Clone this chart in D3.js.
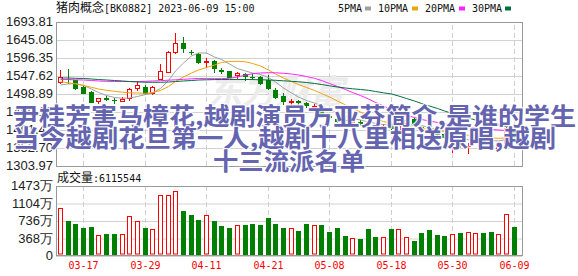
<!DOCTYPE html>
<html><head><meta charset="utf-8">
<script src="https://cdn.jsdelivr.net/npm/d3@7"></script>
<style>html,body{margin:0;padding:0;background:#fff;}svg{display:block}</style>
</head><body><svg id="c" width="578" height="276"></svg>
<script>
const dates = ["2023-03-14","2023-03-15","2023-03-16","2023-03-17","2023-03-20","2023-03-21","2023-03-22","2023-03-23","2023-03-24","2023-03-27","2023-03-28","2023-03-29","2023-03-30","2023-03-31","2023-04-03","2023-04-04","2023-04-06","2023-04-07","2023-04-10","2023-04-11","2023-04-12","2023-04-13","2023-04-14","2023-04-17","2023-04-18","2023-04-19","2023-04-20","2023-04-21","2023-04-24","2023-04-25","2023-04-26","2023-04-27","2023-04-28","2023-05-04","2023-05-05","2023-05-08","2023-05-09","2023-05-10","2023-05-11","2023-05-12","2023-05-15","2023-05-16","2023-05-17","2023-05-18","2023-05-19","2023-05-22","2023-05-23","2023-05-24","2023-05-25","2023-05-26","2023-05-29","2023-05-30","2023-05-31","2023-06-01","2023-06-02","2023-06-05","2023-06-06","2023-06-07","2023-06-08","2023-06-09"];
const opens = [1531.4,1540.3,1536.0,1517.8,1504.3,1479.9,1487.5,1483.2,1479.9,1488.1,1515.9,1518.7,1501.6,1540.3,1557.6,1612.6,1636.1,1613.1,1606.4,1585.8,1589.0,1563.6,1562.0,1549.5,1553.0,1544.6,1544.1,1536.8,1509.7,1493.5,1477.2,1478.6,1474.5,1463.7,1457.5,1438.0,1431.2,1429.0,1423.1,1424.4,1410.9,1412.3,1408.2,1417.7,1401.4,1419.6,1431.2,1410.4,1400.1,1397.4,1390.6,1362.2,1364.9,1356.8,1368.9,1377.1,1360.8,1351.3,1366.2,1398.7];
const highs = [1563.9,1566.6,1538.1,1520.6,1505.7,1488.1,1492.7,1488.1,1490.8,1515.1,1534.1,1523.3,1520.6,1580.9,1614.5,1664.8,1654.0,1618.0,1609.9,1595.5,1589.6,1570.1,1562.5,1557.1,1556.6,1554.9,1547.6,1549.5,1513.8,1502.4,1485.4,1482.7,1477.2,1470.5,1459.6,1444.7,1436.6,1433.9,1432.6,1428.5,1417.7,1415.0,1419.0,1423.1,1425.8,1433.9,1433.9,1413.6,1404.1,1401.4,1393.3,1374.4,1368.9,1366.2,1381.1,1379.8,1363.5,1367.6,1409.6,1401.4];
const lows = [1527.9,1530.0,1511.6,1501.6,1477.2,1475.3,1482.7,1475.3,1479.1,1481.8,1508.9,1498.9,1498.9,1538.7,1557.1,1610.7,1613.4,1607.2,1582.0,1572.8,1558.4,1554.9,1543.6,1541.4,1536.0,1538.7,1526.0,1512.4,1489.4,1471.0,1472.6,1471.8,1463.7,1458.3,1435.3,1428.5,1423.1,1421.7,1420.4,1415.0,1404.1,1404.1,1397.4,1404.1,1398.7,1417.7,1412.3,1398.7,1393.3,1387.9,1379.8,1341.9,1355.4,1340.5,1366.2,1366.2,1352.7,1350.0,1364.9,1382.5];
const closes = [1544.1,1539.2,1514.3,1502.4,1478.0,1487.3,1486.4,1481.8,1486.2,1511.6,1522.4,1500.8,1517.0,1560.3,1611.8,1636.1,1624.2,1612.1,1586.3,1587.4,1569.3,1562.2,1545.7,1556.6,1547.6,1543.6,1527.9,1514.3,1491.6,1480.8,1478.9,1477.2,1469.1,1465.1,1437.4,1436.6,1427.0,1427.7,1427.2,1420.4,1409.6,1406.8,1413.6,1406.8,1419.6,1428.5,1415.0,1401.4,1396.0,1390.6,1382.5,1363.5,1359.5,1358.1,1378.4,1368.9,1354.1,1366.2,1405.5,1387.9];
const volumes = [10180000,7260000,6830000,5980000,6190000,4480000,4550000,4550000,4700000,8330000,7400000,5980000,5690000,12810000,12810000,13600000,9390000,8610000,7680000,8680000,7470000,6400000,5980000,6550000,6620000,6830000,6620000,7900000,6830000,5980000,5910000,5340000,6830000,6620000,6620000,5120000,5980000,4270000,3770000,3630000,5760000,4050000,4050000,5760000,5760000,4050000,3200000,4910000,5550000,4480000,4270000,4700000,4910000,5120000,4910000,4910000,5120000,4700000,8750000,6115544];
const ma5 = [1523.3,1526.0,1527.3,1521.9,1512.4,1503.0,1494.8,1489.4,1487.3,1488.1,1492.1,1497.5,1501.6,1513.8,1535.4,1561.2,1582.8,1601.8,1609.9,1609.9,1599.1,1592.3,1580.1,1567.9,1561.2,1555.7,1551.7,1543.6,1531.4,1515.1,1501.6,1490.8,1481.3,1474.5,1466.4,1456.9,1447.5,1438.0,1432.6,1428.5,1423.1,1419.0,1416.3,1413.6,1412.8,1415.0,1416.3,1413.6,1408.2,1402.8,1397.4,1389.3,1382.5,1374.4,1373.0,1374.4,1373.0,1371.7,1376.0,1381.0];
const ma10 = [1532.2,1529.2,1526.5,1521.9,1517.0,1512.4,1508.9,1506.2,1503.8,1502.1,1501.6,1500.8,1503.0,1508.4,1519.2,1532.7,1544.9,1555.7,1563.9,1570.6,1577.4,1584.2,1586.9,1587.4,1586.1,1581.5,1574.7,1563.9,1553.0,1542.2,1532.7,1524.6,1516.5,1508.4,1500.2,1490.8,1479.9,1469.1,1459.6,1450.2,1440.7,1431.2,1424.4,1419.0,1415.0,1410.9,1408.2,1405.5,1402.8,1400.1,1397.4,1393.3,1389.8,1387.1,1384.7,1382.5,1379.8,1379.0,1380.3,1383.3];
const ma20 = [1538.1,1537.9,1537.3,1536.8,1535.4,1534.1,1533.3,1532.7,1532.7,1532.7,1532.7,1533.3,1534.1,1534.9,1536.3,1537.3,1538.7,1540.0,1540.9,1540.5,1540.5,1540.5,1541.4,1544.9,1550.3,1553.6,1555.7,1556.6,1556.3,1554.9,1553.0,1550.3,1546.3,1541.4,1535.4,1527.3,1519.2,1511.1,1503.0,1494.8,1485.4,1475.9,1466.4,1456.9,1448.8,1440.7,1435.3,1429.9,1425.8,1421.7,1417.7,1415.0,1412.3,1409.6,1406.9,1404.7,1402.8,1401.4,1400.1,1399.3];
const ma30 = [1542.2,1542.2,1541.4,1540.9,1539.5,1538.1,1536.8,1535.4,1534.1,1532.7,1531.4,1530.8,1530.6,1530.6,1531.4,1532.7,1534.1,1535.4,1536.8,1537.3,1537.9,1538.1,1538.1,1538.1,1538.1,1537.9,1537.3,1536.8,1536.0,1534.6,1533.3,1531.9,1530.0,1527.3,1524.6,1521.1,1517.8,1515.1,1513.0,1511.1,1508.9,1505.7,1502.1,1498.9,1493.5,1486.7,1479.9,1473.2,1466.4,1459.6,1452.9,1446.1,1439.3,1433.9,1428.5,1423.6,1419.0,1415.0,1410.9,1406.9];
const priceTicks = [1693.81,1645.08,1596.35,1547.62,1498.89,1450.16,1401.43,1352.70,1303.97];
const volTicks = [0,3682500,7365000,11047500,14730000];
const volTickLabels = ["0","368万","736万","1104万","1473万"];
const maNames = ["5PMA","10PMA","20PMA","30PMA"];
const maColors = ["#a0a0a0","#f0a30a","#ff22ff","#00703c"];
const overlayLines = ["尹桂芳害马樟花,越剧演员方亚芬简介,是谁的学生","当今越剧花旦第一人,越剧十八里相送原唱,越剧","十三流派名单"];

const svg = d3.select("#c");
const L=56, R=522, PT=22, PB=166, VT=186, VB=256;
const RED="#ff0000", GREEN="#008000";
const MONO="'DejaVu Sans Mono','Liberation Mono',monospace";
const CJK="'Noto Sans CJK SC','Noto Sans',sans-serif";
const SANS="'Liberation Sans',Arial,sans-serif";

const x = d3.scaleBand().domain(dates).range([56.15,517.55]);
const bw = x.bandwidth();
const cx = d => Math.round(x(d)+bw/2);
const yP = d3.scaleLinear().domain([1303.97,1693.81]).range([PB,PT]);
const yV = d3.scaleLinear().domain([0,14730000]).range([VB,VT]);
const tickDates = dates.filter((d,i)=> i%8===3);

// price axis + grid
const gpa = svg.append("g").attr("transform",`translate(${L},0)`)
  .call(d3.axisLeft(yP).tickValues(priceTicks).tickFormat(d3.format(".2f")).tickSize(-(R-L)).tickPadding(3));
gpa.select(".domain").remove();
gpa.selectAll("line").attr("stroke","#d2d2d2");
gpa.selectAll("text").attr("fill","#222").attr("dy","0.27em").style("font",`13px ${SANS}`);

// volume axis + grid
const gva = svg.append("g").attr("transform",`translate(${L},0)`)
  .call(d3.axisLeft(yV).tickValues(volTicks).tickFormat((d,i)=>volTickLabels[i]).tickSize(-(R-L)).tickPadding(3));
gva.select(".domain").remove();
gva.selectAll("line").attr("stroke","#d2d2d2");
gva.selectAll("text").attr("fill","#222").attr("dy","0.3em").style("font",`13px ${SANS}`);

// vertical dashed grids
function vgrid(y0,h){
  const g = svg.append("g").attr("transform",`translate(0,${y0})`)
    .call(d3.axisBottom(x).tickValues(tickDates).tickSize(-h).tickFormat(""));
  g.select(".domain").remove();
  g.selectAll(".tick").attr("transform",d=>`translate(${cx(d)+0.5},0)`);
  g.selectAll("line").attr("stroke","#cfcfcf").attr("stroke-dasharray","5,3");
}
vgrid(PB,PB-PT);
vgrid(VB-1,VB-1-VT);

// date labels
const gx = svg.append("g").attr("transform",`translate(0,255)`)
  .call(d3.axisBottom(x).tickValues(tickDates).tickFormat(d=>d.slice(5)).tickSize(0).tickPadding(7));
gx.select(".domain").remove();
gx.selectAll(".tick").attr("transform",d=>`translate(${cx(d)+0.5},0)`);
gx.selectAll("text").attr("fill",RED).style("font",`10px ${MONO}`);

// faint logo watermark
svg.append("text").attr("x",208).attr("y",104).text("东方财富")
  .attr("fill","#ececec").style("font",`italic 700 34px ${CJK}`);

// candles
const cdata = dates.map((d,i)=>({d,o:opens[i],h:highs[i],l:lows[i],c:closes[i],v:volumes[i],up:closes[i]>=opens[i]}));
const gc = svg.append("g");
cdata.forEach(k=>{
  const X = cx(k.d), col = k.up?RED:GREEN;
  const top = Math.round(yP(Math.max(k.o,k.c))), bot = Math.round(yP(Math.min(k.o,k.c)));
  const hy = Math.round(yP(k.h)), ly = Math.round(yP(k.l));
  gc.append("line").attr("x1",X+0.5).attr("x2",X+0.5).attr("y1",hy).attr("y2",ly+1).attr("stroke",col);
  if (bot-top < 1) {
    gc.append("line").attr("x1",X-2).attr("x2",X+3).attr("y1",top+0.5).attr("y2",top+0.5).attr("stroke",col);
  } else if (k.up) {
    gc.append("rect").attr("x",X-1.5).attr("y",top+0.5).attr("width",4).attr("height",bot-top)
      .attr("fill","#fff").attr("stroke",col);
  } else {
    gc.append("rect").attr("x",X-2).attr("y",top).attr("width",5).attr("height",bot-top+1).attr("fill",col);
  }
});

// MA lines
[ma5,ma10,ma20,ma30].forEach((arr,j)=>{
  svg.append("path").datum(arr)
    .attr("d",d3.line().x((v,i)=>cx(dates[i])+0.5).y(v=>yP(v)))
    .attr("fill","none").attr("stroke",maColors[j]).attr("stroke-width",1);
});

// volume bars
const gvb = svg.append("g");
cdata.forEach(k=>{
  const X = cx(k.d), top = Math.round(yV(k.v));
  if (k.up) gvb.append("rect").attr("x",X-1.5).attr("y",top+0.5).attr("width",4).attr("height",254.5-top-0.5-0.5)
      .attr("fill","#fff").attr("stroke",RED);
  else gvb.append("rect").attr("x",X-2).attr("y",top).attr("width",5).attr("height",255-top).attr("fill",GREEN);
});

// panel borders
svg.append("rect").attr("x",L+0.5).attr("y",PT+0.5).attr("width",R-L).attr("height",PB-PT).attr("fill","none").attr("stroke","#999");
svg.append("rect").attr("x",L+0.5).attr("y",VT+0.5).attr("width",R-L).attr("height",255-VT).attr("fill","none").attr("stroke","#999");

// title
const t = svg.append("text").attr("x",56).attr("y",12).attr("fill","#111");
t.append("tspan").text("猪肉概念").style("font",`12px ${CJK}`);
t.append("tspan").text("[BK0882] 2023-06-09 15:00").style("font",`10px ${MONO}`);

// legend
const legX = [338,378,425,472], sqX=[365,412,459,505];
maNames.forEach((n,j)=>{
  svg.append("text").attr("x",legX[j]).attr("y",12).text(n).attr("fill","#111").style("font",`10px ${MONO}`);
  svg.append("rect").attr("x",sqX[j]).attr("y",6.5).attr("width",6).attr("height",4).attr("fill",maColors[j]);
});

// volume label
const vl = svg.append("text").attr("x",57).attr("y",182).attr("fill","#111");
vl.append("tspan").text("成交量").style("font",`12px ${CJK}`);
vl.append("tspan").text(":"+volumes[volumes.length-1]).style("font",`10px ${MONO}`);

// overlay text
const ox=[13,13,213], oy=[124.5,147,170], ow=[563,543,152];
overlayLines.forEach((s,i)=>{
  svg.append("text").attr("x",ox[i]).attr("y",oy[i]).text(s)
    .attr("textLength",ow[i]).attr("lengthAdjust","spacingAndGlyphs")
    .attr("fill","#6464b0").attr("stroke","rgba(255,255,255,0.85)").attr("stroke-width",2.5)
    .attr("stroke-linejoin","round").attr("paint-order","stroke")
    .style("font",`700 24px ${CJK}`);
});
</script></body></html>
